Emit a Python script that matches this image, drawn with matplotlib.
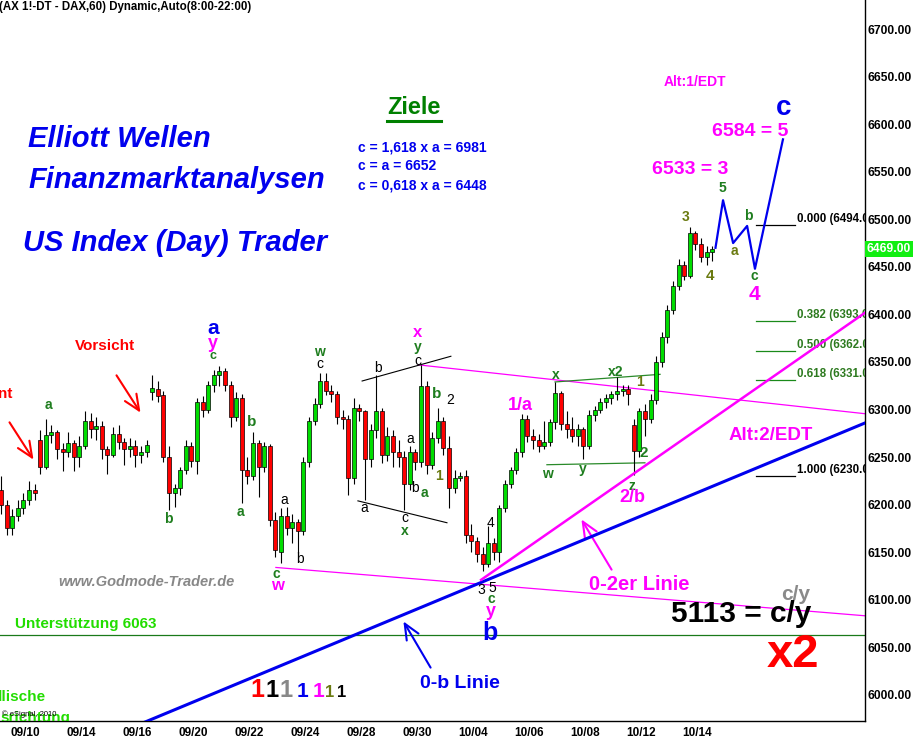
import numpy as np
import matplotlib
matplotlib.use('Agg')
import matplotlib.pyplot as plt
from matplotlib.lines import Line2D

plt.rcParams['font.family'] = ['Liberation Sans', 'DejaVu Sans']

W, H = 915, 738

# DAX 60 min candles (about 5 per trading day)
opens = [6215, 6200, 6175, 6188, 6196, 6205, 6215, 6268, 6240, 6273,
         6276, 6258, 6255, 6265, 6250, 6262, 6288, 6280, 6283, 6258,
         6252, 6274, 6266, 6258, 6262, 6252, 6255, 6318, 6322, 6315,
         6250, 6212, 6218, 6236, 6262, 6246, 6308, 6300, 6326, 6336,
         6340, 6326, 6292, 6312, 6236, 6230, 6265, 6240, 6262, 6184,
         6150, 6188, 6175, 6182, 6172, 6245, 6288, 6306, 6330, 6320,
         6316, 6292, 6290, 6228, 6302, 6298, 6248, 6278, 6298, 6252,
         6272, 6255, 6250, 6222, 6255, 6245, 6325, 6242, 6270, 6288,
         6260, 6218, 6228, 6230, 6168, 6162, 6148, 6138, 6160, 6150,
         6196, 6222, 6236, 6255, 6290, 6272, 6268, 6262, 6266, 6287,
         6317, 6285, 6280, 6272, 6280, 6262, 6294, 6300, 6308, 6312,
         6316, 6320, 6322, 6284, 6256, 6298, 6290, 6310, 6350, 6376,
         6405, 6430, 6452, 6440, 6486, 6474, 6460, 6466]
highs = [6230, 6205, 6195, 6205, 6212, 6225, 6222, 6278, 6290, 6284,
         6278, 6265, 6276, 6268, 6272, 6298, 6296, 6292, 6288, 6262,
         6282, 6284, 6270, 6270, 6268, 6262, 6268, 6336, 6330, 6320,
         6262, 6222, 6240, 6268, 6266, 6312, 6314, 6330, 6342, 6346,
         6344, 6330, 6318, 6316, 6250, 6276, 6268, 6266, 6264, 6192,
         6196, 6198, 6190, 6185, 6250, 6292, 6312, 6338, 6338, 6326,
         6320, 6300, 6294, 6312, 6306, 6300, 6285, 6336, 6302, 6282,
         6278, 6268, 6256, 6262, 6258, 6347, 6330, 6276, 6302, 6292,
         6272, 6236, 6234, 6236, 6180, 6166, 6155, 6178, 6165, 6200,
         6226, 6240, 6260, 6295, 6294, 6280, 6274, 6288, 6290, 6329,
         6320, 6298, 6292, 6285, 6282, 6300, 6304, 6312, 6316, 6320,
         6334, 6326, 6326, 6290, 6302, 6306, 6316, 6356, 6382, 6410,
         6435, 6458, 6456, 6492, 6488, 6480, 6472, 6472]
lows = [6190, 6168, 6168, 6183, 6190, 6200, 6205, 6232, 6238, 6265,
        6248, 6235, 6250, 6235, 6240, 6258, 6270, 6268, 6248, 6232,
        6250, 6258, 6242, 6250, 6240, 6244, 6250, 6310, 6308, 6245,
        6194, 6198, 6210, 6232, 6240, 6232, 6292, 6296, 6318, 6325,
        6320, 6282, 6288, 6202, 6222, 6226, 6208, 6234, 6178, 6145,
        6139, 6168, 6160, 6149, 6168, 6240, 6284, 6302, 6315, 6308,
        6285, 6280, 6210, 6222, 6288, 6205, 6240, 6270, 6244, 6246,
        6240, 6240, 6194, 6215, 6236, 6240, 6232, 6238, 6265, 6252,
        6196, 6212, 6225, 6160, 6150, 6140, 6130, 6134, 6142, 6140,
        6192, 6218, 6232, 6250, 6266, 6258, 6255, 6258, 6262, 6280,
        6278, 6270, 6266, 6262, 6248, 6258, 6288, 6296, 6302, 6306,
        6310, 6314, 6305, 6231, 6250, 6272, 6286, 6306, 6345, 6370,
        6400, 6426, 6436, 6438, 6468, 6455, 6452, 6456]
closes = [6200, 6175, 6188, 6196, 6205, 6215, 6212, 6240, 6273, 6276,
          6258, 6255, 6265, 6250, 6262, 6288, 6280, 6283, 6258, 6252,
          6274, 6266, 6258, 6262, 6252, 6255, 6263, 6323, 6314, 6250,
          6212, 6218, 6236, 6262, 6246, 6308, 6300, 6326, 6336, 6340,
          6326, 6292, 6312, 6236, 6230, 6265, 6240, 6262, 6184, 6152,
          6188, 6175, 6182, 6172, 6245, 6288, 6306, 6330, 6320, 6316,
          6292, 6290, 6228, 6302, 6298, 6248, 6278, 6298, 6252, 6272,
          6255, 6250, 6222, 6255, 6245, 6325, 6242, 6270, 6288, 6260,
          6218, 6228, 6230, 6168, 6162, 6148, 6138, 6160, 6150, 6196,
          6222, 6236, 6255, 6290, 6272, 6268, 6262, 6266, 6287, 6317,
          6285, 6280, 6272, 6280, 6262, 6294, 6300, 6308, 6312, 6316,
          6320, 6322, 6316, 6256, 6298, 6290, 6310, 6350, 6376, 6405,
          6430, 6452, 6440, 6486, 6474, 6460, 6466, 6469]
first_bar_day = -0.857
bars_per_day = 5

date_labels = ['09/10', '09/14', '09/16', '09/20', '09/22', '09/24', '09/28',
               '09/30', '10/04', '10/06', '10/08', '10/12', '10/14']
date_days = [0, 2, 4, 6, 8, 10, 12, 14, 16, 18, 20, 22, 24]
price_ticks = [6000, 6050, 6100, 6150, 6200, 6250, 6300, 6350, 6400, 6450,
               6500, 6550, 6600, 6650, 6700]
last_price = 6469

# trend lines (day, price)
zero_b_days, zero_b_prices = [4.0, 30.5], [5968, 6292]
zero_2_days, zero_2_prices = [16.29, 30.5], [6121, 6412]
upper_chan_days, upper_chan_prices = [14.04, 30.5], [6347, 6294]
lower_chan_days, lower_chan_prices = [8.96, 30.5], [6134, 6082]
support = 6063
tri_up_days, tri_up_prices = [12.04, 15.21], [6330, 6356]
tri_lo_days, tri_lo_prices = [11.89, 15.07], [6204, 6181]
x_line_days, x_line_prices = [18.93, 22.68], [6329, 6337]
wy_line_days, wy_line_prices = [18.64, 22.14], [6242, 6244]

# projected path 5-a-b-c-5
proj_days = [24.66, 24.93, 25.29, 25.79, 26.07, 27.07]
proj_prices = [6470, 6520, 6475, 6493, 6448, 6584]

# fibonacci retracement
fib_ratios = ['0.000', '0.382', '0.500', '0.618', '1.000']
fib_prices = [6494, 6393, 6362, 6331, 6230]
fib_days = [26.1, 27.5]

GREEN = '#1e7d1e'
OLIVE = '#6a7a10'
BLUE = '#0000ee'
MAG = '#ff00ff'

fig = plt.figure(figsize=(W / 100, H / 100), dpi=100)
ax = fig.add_axes([0, 17 / H, 865 / W, 721 / H])
ax.set_xlim(-25 / 28, 30.0)
ax.set_ylim(5972.6, 6730.5)

# candles
o, hi, lo, c = map(np.array, (opens, highs, lows, closes))
x = first_bar_day + np.arange(len(c)) / bars_per_day
up = c >= o
ax.vlines(x, lo, hi, color='black', lw=0.8, zorder=3)
ax.bar(x, np.maximum(np.abs(c - o), 1.0), bottom=np.minimum(o, c), width=0.14,
       color=np.where(up, '#00dd00', '#ff0000'), edgecolor='black', linewidth=0.5, zorder=4)

# lines
ax.plot(zero_b_days, zero_b_prices, color=BLUE, lw=2.2, zorder=5)
ax.plot(zero_2_days, zero_2_prices, color=MAG, lw=1.8, zorder=5)
ax.plot(upper_chan_days, upper_chan_prices, color=MAG, lw=0.9, zorder=2)
ax.plot(lower_chan_days, lower_chan_prices, color=MAG, lw=0.9, zorder=2)
ax.axhline(support, color='#1a7a1a', lw=0.9, zorder=1)
ax.plot(tri_up_days, tri_up_prices, color='black', lw=0.8)
ax.plot(tri_lo_days, tri_lo_prices, color='black', lw=0.8)
ax.plot(x_line_days, x_line_prices, color='#2a8a2a', lw=0.9)
ax.plot(wy_line_days, wy_line_prices, color='#2a8a2a', lw=0.9)
ax.plot(proj_days, proj_prices, color=BLUE, lw=1.6, zorder=5)

for r, p in zip(fib_ratios, fib_prices):
    col = 'black' if r in ('0.000', '1.000') else '#1a8a1a'
    ax.plot(fib_days, [p, p], color=col, lw=0.9)
    ax.text(27.57, p + 6, f'{r} ({p:.2f})', color='black' if col == 'black' else '#2d7a1f',
            fontsize=8.3, fontweight='bold', va='center', ha='left', clip_on=True)

# axes styling
for s in ('left', 'top'):
    ax.spines[s].set_visible(False)
ax.spines['right'].set_linewidth(1.0)
ax.spines['bottom'].set_linewidth(1.0)
ax.yaxis.tick_right()
ax.set_yticks(price_ticks)
ax.set_yticklabels([f'{p:.2f}' for p in price_ticks])
ax.set_xticks(date_days)
ax.set_xticklabels(date_labels)
ax.tick_params(axis='y', length=0, pad=2, labelsize=8.7)
ax.tick_params(axis='x', length=0, pad=4, labelsize=8.5)
for lab in ax.get_yticklabels() + ax.get_xticklabels():
    lab.set_fontweight('bold')


def t(x, y, s, color='black', size=10, weight='bold', ha='center', va='center', **kw):
    fig.text(x / W, 1 - y / H, s, color=color, fontsize=size, fontweight=weight,
             ha=ha, va=va, **kw)


fig.text(889 / W, 1 - 249 / H, f'{last_price:.2f}', color='white', fontsize=8.7,
         fontweight='bold', ha='center', va='center',
         bbox=dict(facecolor='#11ee11', edgecolor='none', pad=1.5))

t(-1, 7, '(AX 1!-DT - DAX,60) Dynamic,Auto(8:00-22:00)', size=8.3, ha='left')
t(28, 139, 'Elliott Wellen', BLUE, 21, ha='left', style='italic')
t(28, 180, 'Finanzmarktanalysen', BLUE, 21, ha='left', style='italic')
t(23, 243, 'US Index (Day) Trader', BLUE, 21, ha='left', style='italic')
t(414, 108, 'Ziele', '#008000', 17)
fig.add_artist(Line2D([387 / W, 441 / W], [1 - 121 / H] * 2, color='#008000', lw=2.2))
t(358, 147, 'c = 1,618 x a = 6981', BLUE, 10, ha='left')
t(358, 166, 'c = a = 6652', BLUE, 10, ha='left')
t(358, 185, 'c = 0,618 x a = 6448', BLUE, 10, ha='left')

t(695, 82, 'Alt:1/EDT', MAG, 10)
t(690, 170, '6533 = 3', MAG, 14)
t(750, 131, '6584 = 5', MAG, 14)
t(784, 108, 'c', BLUE, 20)
t(771, 436, 'Alt:2/EDT', MAG, 13.5)
t(639, 584, '0-2er Linie', MAG, 14.5)
t(460, 683, '0-b Linie', BLUE, 14)
t(796, 594, 'c/y', '#8a8a8a', 15)
t(741, 614, '5113 = c/y', 'black', 21.5)
t(793, 655, 'x2', 'red', 34)
t(15, 624, 'Unterstützung 6063', '#22dd00', 11, ha='left')
t(146, 582, 'www.Godmode-Trader.de', '#888888', 10.5, style='italic')
t(105, 346, 'Vorsicht', 'red', 11)
t(12, 394, 'nt', 'red', 11, ha='right')
t(46, 697, 'llische', '#22dd00', 11, ha='right')
t(2, 714, '© eSignal, 2010', 'black', 5.5, weight='normal', ha='left')
ax.text(0.0, 718, 'srichtung', transform=fig.transFigure, color='#22dd00', fontsize=11,
        fontweight='bold', ha='left', va='center', clip_on=True).set_position((0, 1 - 718 / H))

# row of coloured ones
for xs, col, sz in [(257, 'red', 18), (272, 'black', 17), (286, '#888888', 17),
                    (302, BLUE, 15), (318, MAG, 15), (330, OLIVE, 12), (342, 'black', 12)]:
    t(xs, 697, '1', col, sz, va='baseline')

# wave labels
waves = [
    ('a', 48, 405, GREEN, 10), ('b', 168, 519, GREEN, 10),
    ('a', 213, 329, BLUE, 15), ('y', 213, 344, MAG, 13), ('c', 213, 356, GREEN, 9),
    ('b', 252, 422, GREEN, 11), ('a', 240, 512, GREEN, 10),
    ('a', 284, 500, 'black', 10), ('b', 300, 559, 'black', 10),
    ('c', 276, 574, GREEN, 10), ('w', 277, 586, MAG, 12),
    ('w', 319, 352, GREEN, 10), ('c', 320, 364, 'black', 10),
    ('b', 378, 368, 'black', 10), ('a', 364, 508, 'black', 10),
    ('c', 405, 518, 'black', 10), ('x', 405, 531, GREEN, 10),
    ('a', 410, 439, 'black', 10), ('b', 415, 488, 'black', 10), ('a', 424, 493, GREEN, 10),
    ('x', 418, 333, MAG, 12), ('y', 418, 347, GREEN, 10), ('c', 418, 361, 'black', 10),
    ('b', 437, 394, GREEN, 11), ('2', 450, 400, 'black', 10), ('1', 439, 476, OLIVE, 10),
    ('4', 491, 523, 'black', 10), ('3', 481, 590, 'black', 10), ('5', 492, 588, 'black', 10),
    ('c', 491, 599, GREEN, 10), ('y', 491, 611, MAG, 13), ('b', 490, 633, BLUE, 18),
    ('1/a', 520, 405, MAG, 13), ('x', 556, 375, GREEN, 10), ('w', 547, 474, GREEN, 10),
    ('y', 583, 469, GREEN, 10), ('x2', 616, 372, GREEN, 10), ('1', 640, 382, OLIVE, 10),
    ('2', 644, 453, GREEN, 11), ('z', 632, 486, GREEN, 10), ('2/b', 632, 498, MAG, 13),
    ('3', 686, 217, OLIVE, 10), ('4', 710, 276, OLIVE, 11), ('5', 722, 188, GREEN, 10),
    ('a', 734, 251, OLIVE, 10), ('b', 748, 216, GREEN, 10), ('c', 754, 276, GREEN, 10),
    ('4', 754, 294, MAG, 15),
]
for s, xs, ys, col, sz in waves:
    t(xs, ys, s, col, sz, weight='normal' if col == 'black' else 'bold')

# arrows
for tail, head, col in [((8, 420), (35, 462), 'red'), ((115, 373), (142, 415), 'red'),
                        ((432, 670), (402, 619), BLUE), ((613, 572), (580, 517), MAG)]:
    ax.annotate('', xy=(head[0], H - head[1]), xytext=(tail[0], H - tail[1]),
                xycoords='figure pixels', textcoords='figure pixels',
                arrowprops=dict(arrowstyle='->,head_length=0.8,head_width=0.35',
                                color=col, lw=1.5, mutation_scale=14))

fig.savefig('out.png', dpi=100)
